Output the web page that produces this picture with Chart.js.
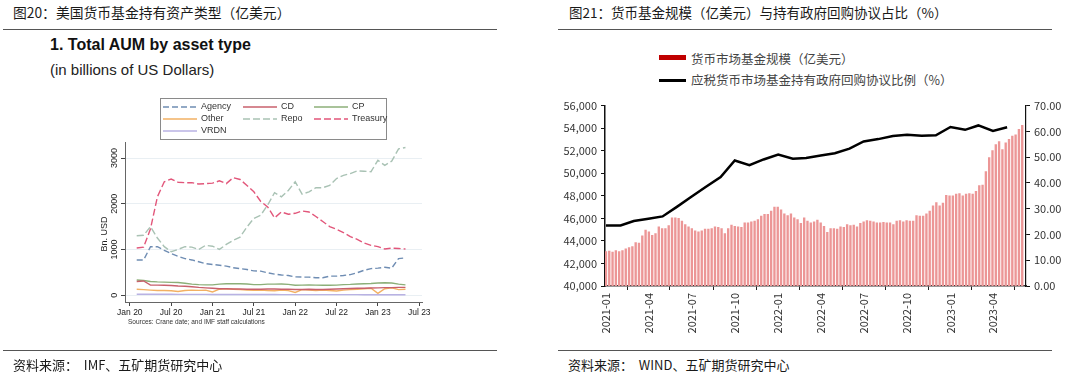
<!DOCTYPE html>
<html lang="zh">
<head>
<meta charset="UTF-8">
<title>货币基金资产与规模</title>
<script src="https://cdn.jsdelivr.net/npm/chart.js"></script>
<style>
  body { margin:0; width:1080px; height:385px; background:#fff; position:relative; overflow:hidden;
         font-family:"Noto Sans CJK SC", sans-serif; color:#222; }
  .t { position:absolute; white-space:nowrap; line-height:1; }
  .hdr { font-size:13.5px; top:6px; color:#1a1a1a; }
  .rule { position:absolute; height:0; border-top:1.5px solid #555; }
  .src { font-size:13px; top:358px; color:#1a1a1a; }
  .en { font-family:"Liberation Sans", Arial, sans-serif; }
  .leg { font-size:12.5px; color:#444; }
  canvas { position:absolute; }
</style>
</head>
<body>
  <!-- 左：IMF 资产类型 -->
  <div class="t hdr" style="left:13px; font-size:13.8px">图20：美国货币基金持有资产类型（亿美元）</div>
  <div class="rule" style="left:3px; width:494px; top:29px"></div>
  <div class="t en" style="left:50px; top:37px; font-size:16px; font-weight:bold; color:#111">1. Total AUM by asset type</div>
  <div class="t en" style="left:50px; top:62px; font-size:15px; color:#222">(in billions of US Dollars)</div>
  <canvas id="aumChart" width="345" height="245" style="left:90px; top:90px"></canvas>
  <div class="t en" style="left:128px; top:319px; font-size:6.5px; color:#333">Sources: Crane date; and IMF staff calculations</div>
  <div class="rule" style="left:3px; width:494px; top:350px"></div>
  <div class="t src" style="left:13px">资料来源：&nbsp; IMF、五矿期货研究中心</div>

  <!-- 右：WIND 规模与回购占比 -->
  <div class="t hdr" style="left:569px">图21：货币基金规模（亿美元）与持有政府回购协议占比（%）</div>
  <div class="rule" style="left:558px; width:494px; top:29px"></div>
  <div style="position:absolute; left:659px; top:55px; width:27px; height:5px; background:#c00000"></div>
  <div class="t leg" style="left:691px; top:53px">货币市场基金规模（亿美元）</div>
  <div style="position:absolute; left:659px; top:79px; width:27px; height:2.5px; background:#000"></div>
  <div class="t leg" style="left:691px; top:74px">应税货币市场基金持有政府回购协议比例（%）</div>
  <canvas id="fundChart" width="540" height="245" style="left:540px; top:95px"></canvas>
  <div class="rule" style="left:558px; width:494px; top:350px"></div>
  <div class="t src" style="left:568px">资料来源：&nbsp; WIND、五矿期货研究中心</div>

<script>
// ---------- 图20 数据（十亿美元，月度） ----------
const aumMonths = [
  '2020-02','2020-03','2020-04','2020-05','2020-06','2020-07','2020-08','2020-09','2020-10','2020-11','2020-12',
  '2021-01','2021-02','2021-03','2021-04','2021-05','2021-06','2021-07','2021-08','2021-09','2021-10','2021-11','2021-12',
  '2022-01','2022-02','2022-03','2022-04','2022-05','2022-06','2022-07','2022-08','2022-09','2022-10','2022-11','2022-12',
  '2023-01','2023-02','2023-03','2023-04','2023-05'
];
const agency   = [770,770,1060,1060,980,910,850,800,770,730,690,670,655,635,600,580,560,530,525,490,460,440,430,400,395,395,380,380,415,415,430,450,490,545,580,590,610,590,800,815];
const cd       = [300,310,220,220,215,210,200,195,185,170,160,150,140,140,135,135,130,130,130,135,135,130,130,125,125,130,125,125,130,135,140,145,150,150,155,160,165,165,170,170];
const cp       = [330,320,300,290,285,280,275,260,240,230,225,225,240,250,250,250,245,230,230,240,240,245,235,215,220,225,220,215,215,220,230,235,245,250,255,265,270,265,240,225];
const other    = [130,120,110,100,100,95,80,100,110,105,110,70,130,140,130,120,110,105,110,100,95,110,100,60,120,110,100,110,100,90,110,120,130,140,150,40,140,160,120,130];
const repo     = [1300,1310,1500,1250,1060,950,1000,1060,1050,1000,1090,1070,1000,1110,1200,1270,1490,1680,1750,1970,2240,2150,2290,2480,2210,2260,2350,2350,2400,2550,2620,2660,2720,2710,2700,2950,2840,2930,3200,3230];
const treasury = [1030,1050,1450,2150,2480,2540,2470,2460,2460,2430,2440,2450,2500,2440,2570,2530,2400,2260,2050,1930,1690,1820,1770,1790,1840,1820,1720,1610,1500,1440,1370,1280,1220,1140,1090,1060,1010,1030,1020,1010];
const vrdn     = [20,20,20,18,18,18,17,17,17,16,16,15,15,15,15,14,14,14,13,13,13,12,12,12,12,12,12,11,11,11,11,11,11,10,10,10,10,10,10,10];
const aumTicks  = ['Jan 20','Jul 20','Jan 21','Jul 21','Jan 22','Jul 22','Jan 23','Jul 23'];
const aumYTicks = [0, 1000, 2000, 3000];

// ---------- 图21 数据 ----------
const fundStart = '2021-01-01';   // 周度数据起点
const fundAum = [
  43050,43100,43000,43150,43050,43150,43300,43400,43500,43850,
  43800,44450,44950,44800,44500,44650,45250,45100,45100,45350,
  46050,46050,46000,45750,45450,45250,45100,44900,44800,44900,
  45050,45050,45100,45250,45200,45100,44650,45100,45400,45300,
  45250,45200,45600,45600,45700,45750,45900,46200,46350,46350,
  46650,47000,47000,46750,46400,46250,46400,46050,45900,45550,
  46050,45750,45600,45700,45850,45600,45300,44750,45100,45100,
  45050,
  45250,45200,45450,45350,45400,45250,45550,45700,45800,45750,
  45700,45600,45600,45650,45600,45600,45450,45750,45800,45700,
  45800,45750,45750,46250,46200,46200,46400,46650,47100,47400,
  47100,47350,48050,48000,48000,48150,48200,48000,48150,48200,
  48150,48400,48900,48950,50150,51400,52000,52550,52800,52100,
  52700,53000,53300,53400,53900,54250
];
const repoMonths = [
  '2021-01','2021-02','2021-03','2021-04','2021-05','2021-06','2021-07','2021-08','2021-09','2021-10','2021-11','2021-12',
  '2022-01','2022-02','2022-03','2022-04','2022-05','2022-06','2022-07','2022-08','2022-09','2022-10','2022-11','2022-12',
  '2023-01','2023-02','2023-03','2023-04','2023-05'
];
const repoShare = [23.5,23.5,25.2,26.1,27.0,30.8,34.6,38.5,42.3,48.7,46.9,49.1,51.0,49.4,49.7,50.6,51.5,53.3,56.1,57.0,58.2,58.7,58.3,58.5,61.7,60.6,62.3,60.2,61.6];
const quarterTicks = ['2021-01','2021-04','2021-07','2021-10','2022-01','2022-04','2022-07','2022-10','2023-01','2023-04'];

// ---------- helpers ----------
function monthIndex(s) {            // 2020-01 => 0
  const [y, m] = s.split('-').map(Number);
  return (y - 2020) * 12 + (m - 1);
}
function dayOf(s) {                 // 距 fundStart 的天数
  const [y, m, d] = s.split('-').map(Number);
  const [y0, m0, d0] = fundStart.split('-').map(Number);
  return (Date.UTC(y, m - 1, d || 1) - Date.UTC(y0, m0 - 1, d0)) / 86400000;
}

Chart.defaults.animation = false;
Chart.defaults.responsive = false;
Chart.defaults.devicePixelRatio = 1;

// ---------- 图20 ----------
const aumSeries = [
  { label: 'Agency',   data: agency,   color: '#6f8db3', dash: [6, 3] },
  { label: 'CD',       data: cd,       color: '#c8606c', dash: [] },
  { label: 'CP',       data: cp,       color: '#8caf78', dash: [] },
  { label: 'Other',    data: other,    color: '#f2b063', dash: [] },
  { label: 'Repo',     data: repo,     color: '#a9c2b4', dash: [7, 3] },
  { label: 'Treasury', data: treasury, color: '#e2567a', dash: [7, 3] },
  { label: 'VRDN',     data: vrdn,     color: '#b9b2e3', dash: [] }
];

// 图例框 + 竖排的 y 轴刻度（Stata 风格）
const aumDecor = {
  id: 'aumDecor',
  afterDraw(chart) {
    const ctx = chart.ctx;
    const { left, top, bottom } = chart.chartArea;
    const y = chart.scales.y;
    ctx.save();
    ctx.fillStyle = '#222';
    ctx.font = '9px "Liberation Sans", Arial';
    ctx.textAlign = 'center';
    ctx.textBaseline = 'middle';
    aumYTicks.forEach(v => {
      ctx.save();
      ctx.translate(left - 10, y.getPixelForValue(v));
      ctx.rotate(-Math.PI / 2);
      ctx.fillText(String(v), 0, 0);
      ctx.restore();
    });
    ctx.save();
    ctx.translate(left - 20, (top + bottom) / 2 + 12);
    ctx.rotate(-Math.PI / 2);
    ctx.fillText('Bn. USD', 0, 0);
    ctx.restore();

    // legend box
    ctx.strokeStyle = '#8a8a8a';
    ctx.lineWidth = 1;
    ctx.strokeRect(70.5, 8.5, 226, 41);
    const colX = [73, 153, 224];
    const rowY = [17, 29, 41];
    ctx.font = '9px "Liberation Sans", Arial';
    ctx.textAlign = 'left';
    chart.data.datasets.forEach((ds, i) => {
      const cx = colX[i % 3], cy = rowY[Math.floor(i / 3)];
      ctx.beginPath();
      ctx.setLineDash(ds.borderDash || []);
      ctx.strokeStyle = ds.borderColor;
      ctx.lineWidth = 1.5;
      ctx.moveTo(cx, cy);
      ctx.lineTo(cx + 34, cy);
      ctx.stroke();
      ctx.setLineDash([]);
      ctx.fillStyle = '#333';
      ctx.fillText(ds.label, cx + 38, cy);
    });
    ctx.restore();
  }
};

new Chart(document.getElementById('aumChart'), {
  type: 'line',
  data: {
    datasets: aumSeries.map(s => ({
      label: s.label,
      data: s.data.map((v, i) => ({ x: monthIndex(aumMonths[i]), y: v })),
      borderColor: s.color,
      borderDash: s.dash,
      borderWidth: 1.4,
      pointRadius: 0,
      tension: 0
    }))
  },
  options: {
    layout: { padding: { top: 52, right: 13, left: 0, bottom: 0 } },
    plugins: { legend: { display: false }, tooltip: { enabled: false } },
    scales: {
      x: {
        type: 'linear', min: -0.7, max: 42.4,
        afterBuildTicks: s => { s.ticks = aumTicks.map((t, i) => ({ value: i * 6 })); },
        afterFit: s => { s.height = 33; },
        ticks: {
          autoSkip: false, maxRotation: 0, padding: 2, color: '#222',
          font: { family: '"Liberation Sans", Arial', size: 8.5 },
          callback: v => aumTicks[Math.round(v / 6)]
        },
        grid: { drawOnChartArea: false, tickLength: 4, tickColor: '#444' },
        border: { color: '#666', width: 1 }
      },
      y: {
        min: -150, max: 3350,
        afterBuildTicks: s => { s.ticks = aumYTicks.map(v => ({ value: v })); },
        afterFit: s => { s.width = 35; },
        ticks: { display: false },
        grid: { color: '#e9eff3', tickLength: 4, tickColor: '#444' },
        border: { color: '#666', width: 1 }
      }
    }
  },
  plugins: [aumDecor]
});

// ---------- 图21 ----------
const fontCJK = { family: '"Noto Sans CJK SC", sans-serif', size: 11 };

new Chart(document.getElementById('fundChart'), {
  type: 'bar',
  data: {
    datasets: [
      {
        type: 'line',
        label: '应税货币市场基金持有政府回购协议比例（%）',
        data: repoShare.map((v, i) => ({ x: dayOf(repoMonths[i] + '-01'), y: v })),
        yAxisID: 'y1',
        borderColor: '#000',
        borderWidth: 2.5,
        pointRadius: 0,
        tension: 0,
        order: 1
      },
      {
        type: 'bar',
        label: '货币市场基金规模（亿美元）',
        data: fundAum.map((v, i) => ({ x: i * 7, y: v })),
        yAxisID: 'y',
        backgroundColor: '#ec9696',
        barThickness: 1.7,
        order: 2
      }
    ]
  },
  options: {
    layout: { padding: { top: 9, right: 0, left: 0, bottom: 0 } },
    plugins: { legend: { display: false }, tooltip: { enabled: false } },
    scales: {
      x: {
        type: 'linear', offset: false, min: -2, max: 890,
        afterBuildTicks: s => { s.ticks = quarterTicks.map(q => ({ value: dayOf(q + '-01') })); },
        afterFit: s => { s.height = 54; },
        ticks: {
          autoSkip: false, minRotation: 90, maxRotation: 90, padding: 3, color: '#333', font: fontCJK,
          callback: v => quarterTicks.find(q => dayOf(q + '-01') === v) || ''
        },
        grid: { drawOnChartArea: false, tickLength: 4, tickColor: '#222' },
        border: { color: '#333', width: 1.5 }
      },
      y: {
        position: 'left', min: 40000, max: 56000,
        afterFit: s => { s.width = 65; },
        ticks: { stepSize: 2000, color: '#333', font: fontCJK, padding: 4,
                 callback: v => v.toLocaleString('en-US') },
        grid: { drawOnChartArea: false, tickLength: 4, tickColor: '#111' },
        border: { color: '#111', width: 1.5 }
      },
      y1: {
        position: 'right', min: 0, max: 70,
        afterFit: s => { s.width = 54; },
        ticks: { stepSize: 10, color: '#333', font: fontCJK, padding: 4,
                 callback: v => v.toFixed(2) },
        grid: { drawOnChartArea: false, tickLength: 4, tickColor: '#111' },
        border: { color: '#111', width: 1.2 }
      }
    }
  }
});
</script>
</body>
</html>
